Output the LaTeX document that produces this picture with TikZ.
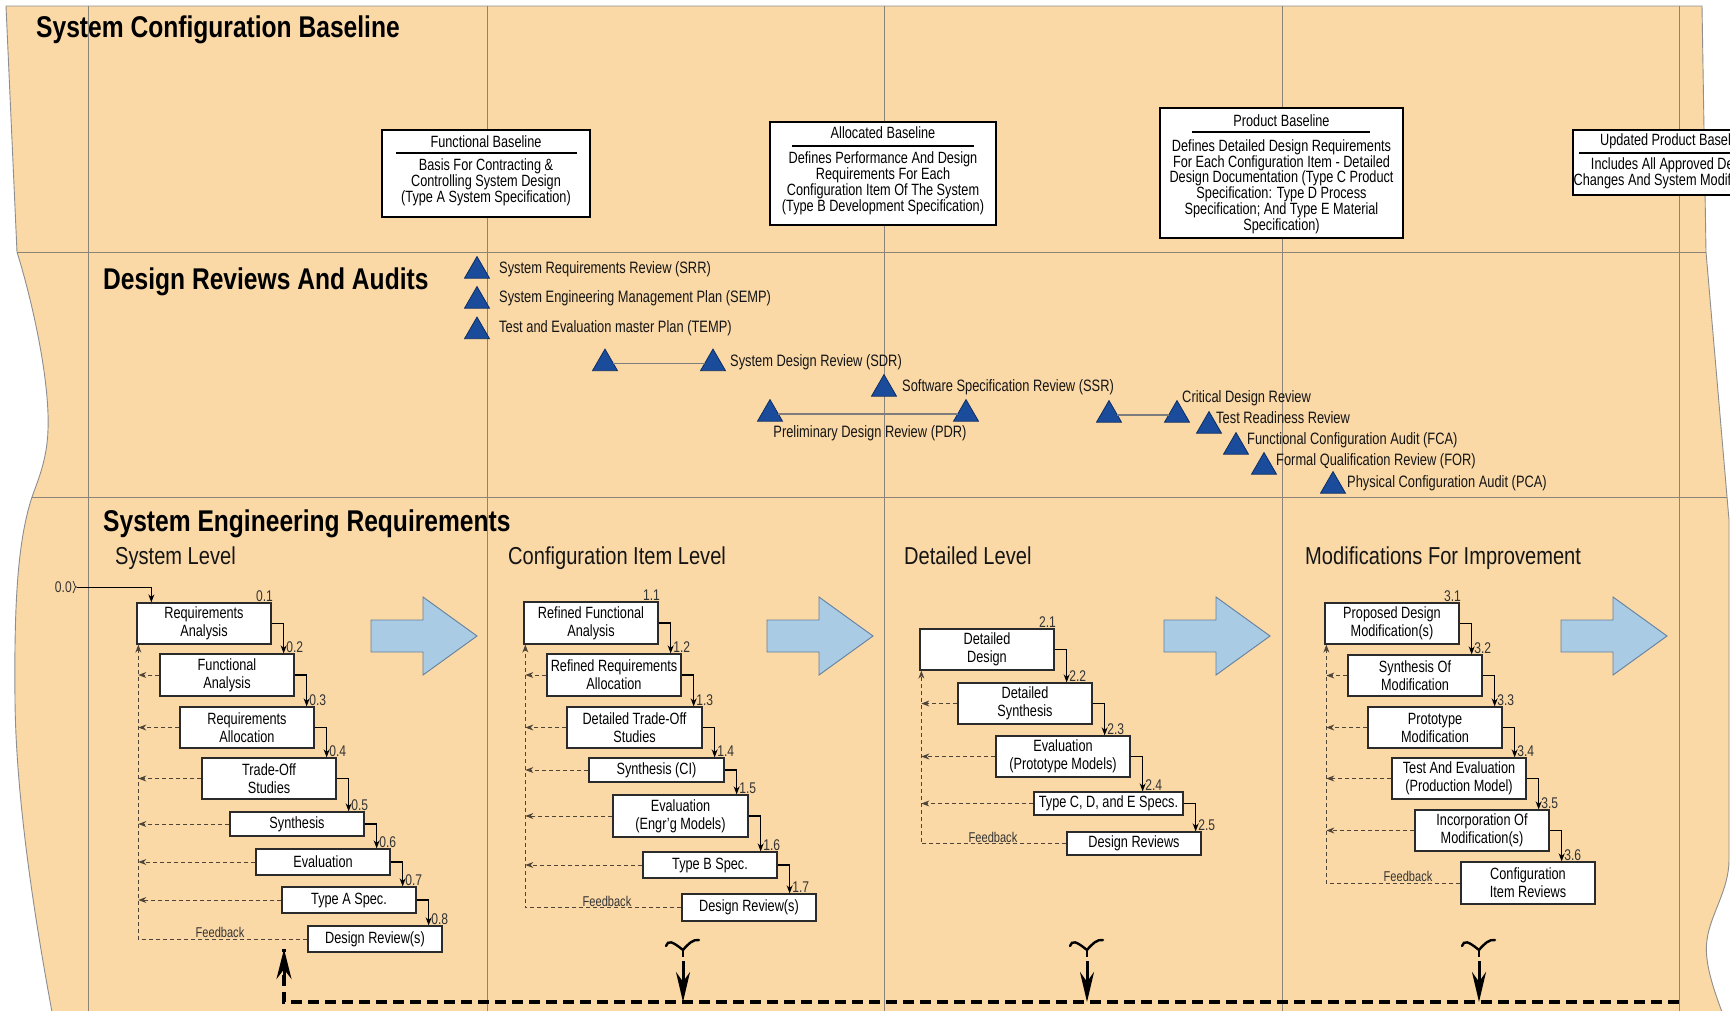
\documentclass[tikz,border=0pt]{standalone}
\usepackage{fontspec}
\setmainfont{Liberation Sans}[FakeStretch=0.82]
\newfontfamily\slimtext{Liberation Sans}[FakeStretch=0.78]
\usetikzlibrary{arrows.meta,shapes.geometric,calc}

\definecolor{tan}{HTML}{FAD9A7}
\definecolor{gridgray}{HTML}{8C8478}
\definecolor{edgegray}{HTML}{8E8E8E}
\definecolor{navy}{HTML}{1A4C9B}
\definecolor{navyedge}{HTML}{0D2D63}
\definecolor{pairgray}{HTML}{7D7D7D}
\definecolor{arrowblue}{HTML}{A9CBE4}
\definecolor{arrowedge}{HTML}{64809E}
\definecolor{boxedge}{HTML}{2B2B2B}
\definecolor{numgray}{HTML}{333333}
\definecolor{fbcol}{HTML}{4F4438}
\definecolor{txt}{HTML}{151515}

\tikzset{
  colline/.style={draw=gridgray, line width=0.9pt},
  headA/.style={font=\fontsize{30}{34}\selectfont\bfseries, inner sep=0pt, anchor=base west, text=black},
  headB/.style={font=\fontsize{24.5}{28}\selectfont, inner sep=0pt, anchor=base west, text=txt},
  basebox/.style={draw=black, line width=1.4pt, fill=white},
  basetitle/.style={font=\slimtext\fontsize{16.3}{16}\selectfont, inner sep=0pt, text=black},
  basebody/.style={font=\slimtext\fontsize{16.3}{16}\selectfont, inner sep=0pt, align=center, text=black},
  baserule/.style={draw=black, line width=1.8pt},
  tri/.style={regular polygon, regular polygon sides=3, minimum size=28.9pt, inner sep=0pt, outer sep=0pt,
    fill=navy, draw=navyedge, line width=0.8pt},
  pairline/.style={draw=pairgray, line width=1.3pt},
  revlabel/.style={font=\slimtext\fontsize{16.5}{18}\selectfont, inner sep=0pt, anchor=west, text=txt,
    text height=11.5pt, text depth=3pt},
  pbox/.style={draw=boxedge, line width=1.3pt, fill=white, align=center, inner sep=1pt,
    font=\slimtext\fontsize{16.3}{18}\selectfont, text=black},
  steparrow/.style={draw=black, line width=1.2pt, -{Stealth[length=8pt,width=6pt]}},
  numlabel/.style={font=\slimtext\fontsize{15.5}{16}\selectfont, inner sep=0.5pt, text=numgray},
  fbline/.style={draw=fbcol, line width=0.9pt, dash pattern=on 4pt off 3pt, -{Stealth[length=8pt,width=6pt]}},
  fblabel/.style={font=\slimtext\fontsize{14.2}{15}\selectfont, inner sep=1pt, anchor=south, text=numgray},
  bluearrow/.style={fill=arrowblue, draw=arrowedge, line width=0.9pt},
  retline/.style={draw=black, line width=3.5pt, dash pattern=on 11pt off 6pt},
  fork/.style={draw=black, line width=2.4pt, line cap=round},
}

% process box: name, centre x, centre y, width, height, text
\newcommand\procbox[6]{\node[pbox, minimum width=#4pt, minimum height=#5pt] (#1) at (#2,#3) {#6};}
% step from one box to the next, with its number
\newcommand\procstep[3]{%
  \draw[steparrow] (#1.east) -| ([xshift=12pt]#1.east |- #2.north);
  \node[numlabel, anchor=south west] (n#2) at ([xshift=14pt]#1.east |- #2.north) {#3};}
% feedback from a box back to the return line
\newcommand\fback[2]{\draw[fbline] (#1.west) -- (#1.west -| #2);}
% large blue transition arrow
\newcommand\bigarrow[1]{\draw[bluearrow] (#1,620) -- ++(52,0) -- ++(0,-23) -- ++(54,39) -- ++(-54,39) -- ++(0,-23) -- ++(-52,0) -- cycle;}
% forked tail and downward arrow into the return line
\newcommand\downfork[2]{%
  \draw[fork] (#1-17,946) .. controls (#1-15,940) and (#1-11,941) .. (#1,950)
              .. controls (#1+5,944) and (#1+10,939) .. (#1+16,940);
  \draw[fork, line cap=butt] (#1,949) -- (#1,957);
  \coordinate (#2) at (#1,961);
  \draw[line width=3pt, -{Stealth[length=30pt,width=14pt]}] (#2) -- (#2 |- retL);}

\begin{document}
\begin{tikzpicture}[x=1pt,y=-1pt]
\useasboundingbox (0,0) rectangle (1730,1010);
\clip (0,0) rectangle (1730,1010);
\fill[white] (0,0) rectangle (1730,1010);

% page outline with its wavy sides
\filldraw[fill=tan, draw=edgegray, line width=0.9pt]
  (6,6) -- (17,252)
  .. controls (32,300) and (50,380) .. (48,430)
  .. controls (47,460) and (38,480) .. (32,497)
  .. controls (18,540) and (14,600) .. (15,700)
  .. controls (16,800) and (35,920) .. (52,1012)
  -- (1722,1012)
  .. controls (1712,985) and (1704,960) .. (1707,940)
  .. controls (1710,915) and (1729,890) .. (1729,860)
  -- (1729,520) -- (1706,252) -- (1702,6) -- cycle;

% columns and bands
\foreach \x in {88,487,884,1282,1679} \draw[colline] (\x,6) -- (\x,1012);
\draw[colline] (17,252) -- (1706,252);
\draw[colline] (32,497) -- (1727,497);

% band headings
\node[headA] (hSCB) at (36,37) {System Configuration Baseline};
\node[headA] (hDRA) at (103,289) {Design Reviews And Audits};
\node[headA] (hSER) at (103,531) {System Engineering Requirements};
\node[headB] (hSL) at (115,564) {System Level};
\node[headB] (hCI) at (508,564) {Configuration Item Level};
\node[headB] (hDL) at (904,564) {Detailed Level};
\node[headB] (hMI) at (1305,564) {Modifications For Improvement};

% baselines
\node[basebox, minimum width=208pt, minimum height=87pt] (fbase) at (486,173.5) {};
\node[basetitle] (fbaseT) at (486,142) {Functional Baseline};
\draw[baserule] (396,153) -- (577,153);
\node[basebody] (fbaseB) at (486,182) {Basis For Contracting \&\\Controlling System Design\\(Type A System Specification)};

\node[basebox, minimum width=226pt, minimum height=103pt] (abase) at (883,173.5) {};
\node[basetitle] (abaseT) at (883,133) {Allocated Baseline};
\draw[baserule] (792,146) -- (974,146);
\node[basebody] (abaseB) at (883,183) {Defines Performance And Design\\Requirements For Each\\Configuration Item Of The System\\(Type B Development Specification)};

\node[basebox, minimum width=243pt, minimum height=130pt] (pbase) at (1281.5,173) {};
\node[basetitle] (pbaseT) at (1281.5,121) {Product Baseline};
\draw[baserule] (1192,132) -- (1370,132);
\node[basebody, font=\slimtext\fontsize{16.3}{15.8}\selectfont] (pbaseB) at (1281.5,186.5) {Defines Detailed Design Requirements\\For Each Configuration Item - Detailed\\Design Documentation (Type C Product\\Specification: Type D Process\\Specification; And Type E Material\\Specification)};

\node[basebox, minimum width=202pt, minimum height=65pt] (ubase) at (1674,162.5) {};
\node[basetitle] (ubaseT) at (1674,141) {Updated Product Baseline};
\draw[baserule] (1579,153) -- (1768,153);
\node[basebody] (ubaseB) at (1674,173) {Includes All Approved Design\\Changes And System Modifications};

% reviews and audits
\node[tri] (srr) at (477,271) {};
\node[tri] (semp) at (477,301) {};
\node[tri] (temp) at (477,331.5) {};
\node[tri] (sdrL) at (605,363.5) {};
\node[tri] (sdrR) at (713,363.5) {};
\node[tri] (ssr) at (884,389) {};
\node[tri] (pdrL) at (770,414) {};
\node[tri] (pdrR) at (966,414) {};
\node[tri] (cdrL) at (1109,415) {};
\node[tri] (cdrR) at (1177,415) {};
\node[tri] (trr) at (1209,426) {};
\node[tri] (fca) at (1236,447) {};
\node[tri] (for) at (1264,467) {};
\node[tri] (pca) at (1333,486) {};
\draw[pairline] (sdrL) -- (sdrR);
\draw[pairline] (pdrL) -- (pdrR);
\draw[pairline] (cdrL) -- (cdrR);

\node[revlabel] (lsrr) at (499,269) {System Requirements Review (SRR)};
\node[revlabel] (lsemp) at (499,298) {System Engineering Management Plan (SEMP)};
\node[revlabel] (ltemp) at (499,328) {Test and Evaluation master Plan (TEMP)};
\node[revlabel] (lsdr) at (730,362) {System Design Review (SDR)};
\node[revlabel] (lssr) at (902,387) {Software Specification Review (SSR)};
\node[revlabel, anchor=center] (lpdr) at (870,433) {Preliminary Design Review (PDR)};
\node[revlabel] (lcdr) at (1182,398) {Critical Design Review};
\node[revlabel] (ltrr) at (1216,419) {Test Readiness Review};
\node[revlabel] (lfca) at (1247,440) {Functional Configuration Audit (FCA)};
\node[revlabel] (lfor) at (1276,461) {Formal Qualification Review (FOR)};
\node[revlabel] (lpca) at (1347,483) {Physical Configuration Audit (PCA)};

% transition arrows
\bigarrow{371}
\bigarrow{767}
\bigarrow{1164}
\bigarrow{1561}

% system level
\procbox{A1}{204}{623.5}{134}{41}{Requirements\\Analysis}
\procbox{A2}{227}{675}{134}{42}{Functional\\Analysis}
\procbox{A3}{247}{727.5}{134}{41}{Requirements\\Allocation}
\procbox{A4}{269}{778.5}{134}{41}{Trade-Off\\Studies}
\procbox{A5}{297}{824}{134}{24}{Synthesis}
\procbox{A6}{323}{862}{134}{26}{Evaluation}
\procbox{A7}{349}{900}{134}{26}{Type A Spec.}
\procbox{A8}{375}{939}{134}{26}{Design Review(s)}
\node[numlabel, anchor=south east] (nA1) at ([xshift=2pt]A1.north east) {0.1};
\procstep{A1}{A2}{0.2}
\procstep{A2}{A3}{0.3}
\procstep{A3}{A4}{0.4}
\procstep{A4}{A5}{0.5}
\procstep{A5}{A6}{0.6}
\procstep{A6}{A7}{0.7}
\procstep{A7}{A8}{0.8}
\coordinate (fbA) at ([xshift=2pt]A1.south west);
\draw[fbline] (A8.west) -| (fbA);
\foreach \n in {A2,A3,A4,A5,A6,A7} {\fback{\n}{fbA}}
\node[fblabel] (fbtA) at (220,939) {Feedback};

\node[numlabel, anchor=east, inner sep=0pt] (n00) at (72,587) {0.0};
\draw[draw=numgray, line width=0.8pt] (73,581) .. controls (76,583) and (73,586) .. (76.5,587)
  .. controls (73,588) and (76,591) .. (73,593);
\coordinate (c00) at (76.5,587);
\draw[steparrow, line width=0.9pt] (c00) -| ([xshift=15pt]A1.north west);

% configuration item level
\procbox{B1}{591}{623}{134}{42}{Refined Functional\\Analysis}
\procbox{B2}{614}{675}{134}{42}{Refined Requirements\\Allocation}
\procbox{B3}{634.5}{727.5}{135}{41}{Detailed Trade-Off\\Studies}
\procbox{B4}{656.5}{770}{135}{24}{Synthesis (CI)}
\procbox{B5}{680.5}{816}{135}{42}{Evaluation\\(Engr’g Models)}
\procbox{B6}{710}{865}{134}{26}{Type B Spec.}
\procbox{B7}{749}{907.5}{134}{27}{Design Review(s)}
\node[numlabel, anchor=south east] (nB1) at ([xshift=2pt]B1.north east) {1.1};
\procstep{B1}{B2}{1.2}
\procstep{B2}{B3}{1.3}
\procstep{B3}{B4}{1.4}
\procstep{B4}{B5}{1.5}
\procstep{B5}{B6}{1.6}
\procstep{B6}{B7}{1.7}
\coordinate (fbB) at ([xshift=2pt]B1.south west);
\draw[fbline] (B7.west) -| (fbB);
\foreach \n in {B2,B3,B4,B5,B6} {\fback{\n}{fbB}}
\node[fblabel] (fbtB) at (607,907.5) {Feedback};

% detailed level
\procbox{D1}{987}{649.5}{134}{41}{Detailed\\Design}
\procbox{D2}{1025}{703.5}{134}{41}{Detailed\\Synthesis}
\procbox{D3}{1063}{756.5}{134}{41}{Evaluation\\(Prototype Models)}
\procbox{D4}{1108.5}{803.5}{149}{23}{Type C, D, and E Specs.}
\procbox{D5}{1134}{843.5}{134}{23}{Design Reviews}
\node[numlabel, anchor=south east] (nD1) at ([xshift=2pt]D1.north east) {2.1};
\procstep{D1}{D2}{2.2}
\procstep{D2}{D3}{2.3}
\procstep{D3}{D4}{2.4}
\procstep{D4}{D5}{2.5}
\coordinate (fbD) at ([xshift=2pt]D1.south west);
\draw[fbline] (D5.west) -| (fbD);
\foreach \n in {D2,D3,D4} {\fback{\n}{fbD}}
\node[fblabel] (fbtD) at (993,843.5) {Feedback};

% modifications for improvement
\procbox{M1}{1392}{623.5}{134}{41}{Proposed Design\\Modification(s)}
\procbox{M2}{1415}{675.5}{134}{41}{Synthesis Of\\Modification}
\procbox{M3}{1435}{727.5}{134}{41}{Prototype\\Modification}
\procbox{M4}{1459}{778.5}{134}{41}{Test And Evaluation\\(Production Model)}
\procbox{M5}{1482}{830.5}{134}{41}{Incorporation Of\\Modification(s)}
\procbox{M6}{1528}{883}{134}{42}{Configuration\\Item Reviews}
\node[numlabel, anchor=south east] (nM1) at ([xshift=2pt]M1.north east) {3.1};
\procstep{M1}{M2}{3.2}
\procstep{M2}{M3}{3.3}
\procstep{M3}{M4}{3.4}
\procstep{M4}{M5}{3.5}
\procstep{M5}{M6}{3.6}
\coordinate (fbM) at ([xshift=2pt]M1.south west);
\draw[fbline] (M6.west) -| (fbM);
\foreach \n in {M2,M3,M4,M5} {\fback{\n}{fbM}}
\node[fblabel] (fbtM) at (1408,883) {Feedback};

% return line along the bottom
\coordinate (retR) at (1679,1002);
\coordinate (retL) at (284,1002);
\coordinate (retUp) at (284,949);
\draw[retline] (retR) -- (retL) -- (retUp);
\draw[line width=3pt, -{Stealth[length=30pt,width=15pt]}] (284,985) -- (retUp);
\downfork{683}{dn1}
\downfork{1087}{dn2}
\downfork{1479}{dn3}
\end{tikzpicture}
\end{document}
